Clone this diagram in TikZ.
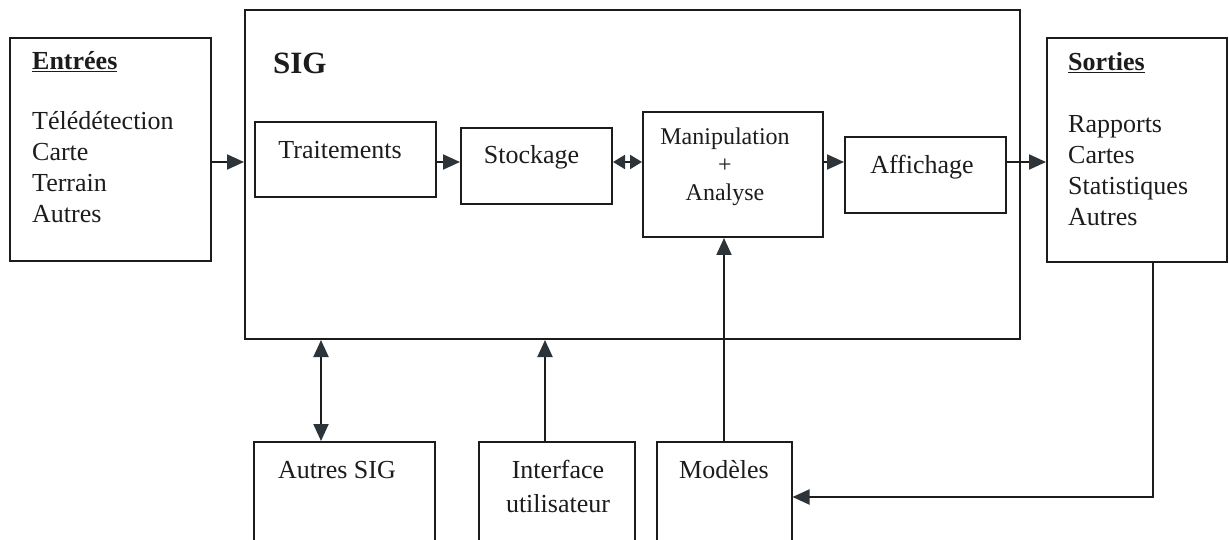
\documentclass[tikz,border=0pt]{standalone}
\usepackage{fontspec}
\setmainfont{Liberation Serif}
\usetikzlibrary{arrows.meta}
\usetikzlibrary{positioning}

\definecolor{encre}{HTML}{1C1C1C}
\definecolor{pointe}{HTML}{2D3439}

\tikzset{
  bloc/.style={draw=encre,line width=2pt,rectangle,inner sep=0pt},
  mot/.style={inner sep=0pt,text=encre,font=\fontsize{26}{31}\selectfont,text height=17pt,text depth=0pt},
  liste/.style={inner sep=0pt,text=encre,font=\fontsize{26}{31}\selectfont,align=left,anchor=north west},
  fleche/.style={draw=encre,line width=2pt,-{Triangle[length=17pt,width=15pt,color=pointe]}},
  fleches/.style={draw=encre,line width=2pt,{Triangle[length=17pt,width=15pt,color=pointe]}-{Triangle[length=17pt,width=15pt,color=pointe]}},
  fleches courtes/.style={draw=encre,line width=2pt,{Triangle[length=12pt,width=14pt,color=pointe]}-{Triangle[length=12pt,width=14pt,color=pointe]}}
}

\begin{document}
\begin{tikzpicture}[x=1pt,y=-1pt]
  \clip (0,0) rectangle (1229,540);
  \fill[white] (0,0) rectangle (1229,540);

  \node[bloc,minimum width=201pt,minimum height=223pt] (entrees) at (110.5,149.5) {};
  \node[bloc,minimum width=775pt,minimum height=329pt] (sig) at (632.5,174.5) {};
  \node[bloc,minimum width=180pt,minimum height=224pt] (sorties) at (1137,150) {};

  \node[bloc,minimum width=181pt,minimum height=75pt] (trait) at (345.5,159.5) {};
  \node[bloc,minimum width=151pt,minimum height=76pt] (stock) at (536.5,166) {};
  \node[bloc,minimum width=180pt,minimum height=125pt] (manip) at (733,174.5) {};
  \node[bloc,minimum width=161pt,minimum height=76pt] (affich) at (925.5,175) {};

  \node[bloc,minimum width=181pt,minimum height=110pt] (autres) at (344.5,497) {};
  \node[bloc,minimum width=156pt,minimum height=110pt] (interface) at (557,497) {};
  \node[bloc,minimum width=135pt,minimum height=110pt] (modeles) at (724,497) {};

  % textes
  \node[liste] (tentrees) at (32,51.5) {\underline{\textbf{Entrées}}\\[29pt]Télédétection\\Carte\\Terrain\\Autres};
  \node[liste] (tsorties) at (1068,52.5) {\underline{\textbf{Sorties}}\\[31pt]Rapports\\Cartes\\Statistiques\\Autres};
  \node[inner sep=0pt,text=encre,font=\fontsize{31}{36}\selectfont\bfseries,anchor=west] (tsig) at (273,63) {SIG};
  \node[mot] (ttrait) at (340,150) {Traitements};
  \node[mot] (tstock) at (531.5,155) {Stockage};
  \node[inner sep=0pt,text=encre,font=\fontsize{24}{28}\selectfont,align=center] (tmanip) at (725,167) {Manipulation\\+\\Analyse};
  \node[mot] (taffich) at (922,165) {Affichage};
  \node[mot] (tautres) at (337,470) {Autres SIG};
  \node[inner sep=0pt,text=encre,font=\fontsize{26}{31}\selectfont,align=center] (tinterface) at (558,486) {Interface\\[3pt]utilisateur};
  \node[mot] (tmodeles) at (724,470) {Modèles};

  % liaisons
  \coordinate (axe) at (0,162);
  \coordinate (lienA) at ([xshift=68pt]autres.north west);
  \coordinate (lienB) at ([xshift=67pt]interface.north west);

  \draw[fleche](entrees.east |- axe)--(sig.west |- axe);
  \draw[fleche](trait.east |- axe)--(stock.west |- axe);
  \draw[fleches courtes](stock.east |- axe)--(manip.west |- axe);
  \draw[fleche](manip.east |- axe)--(affich.west |- axe);
  \draw[fleche](affich.east |- axe)--(sorties.west |- axe);
  \draw[fleches](lienA |- sig.south)--(lienA);
  \draw[fleche](lienB)--(lienB |- sig.south);
  \draw[fleche](modeles.north)--(modeles.north |- manip.south);
  \draw[fleche]([xshift=16pt]sorties.south)|-(modeles.east);
\end{tikzpicture}
\end{document}
